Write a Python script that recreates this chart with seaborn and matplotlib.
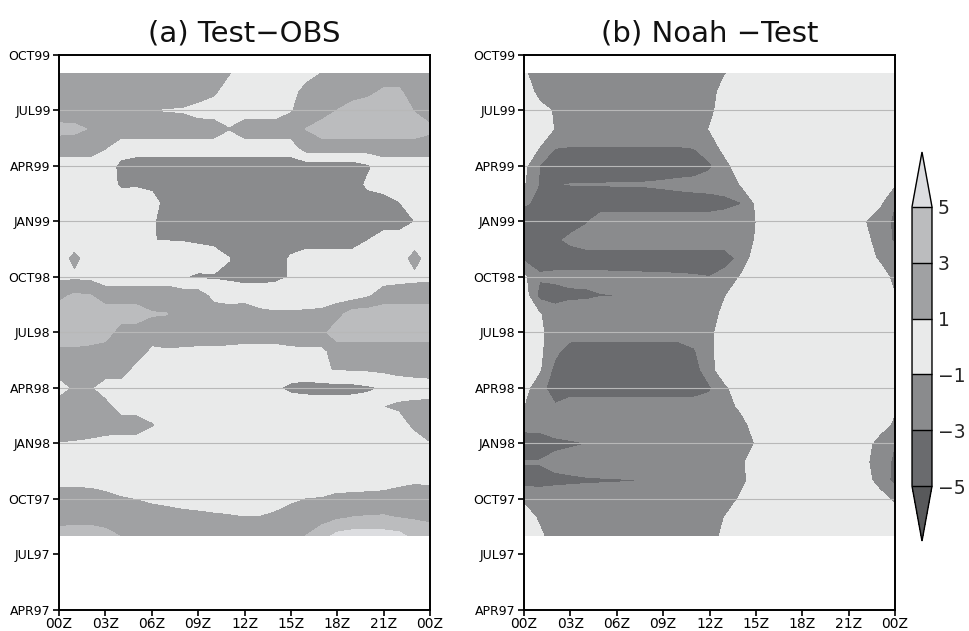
import numpy as np
import matplotlib
matplotlib.use("Agg")
import matplotlib.pyplot as plt
import seaborn as sns

# ---- data: rows = months AUG97..SEP99, columns = hour 00Z..24Z ----
hours = list(range(25))
row_months = ["AUG97", "SEP97", "OCT97", "NOV97", "DEC97", "JAN98", "FEB98", "MAR98",
              "APR98", "MAY98", "JUN98", "JUL98", "AUG98", "SEP98", "OCT98", "NOV98",
              "DEC98", "JAN99", "FEB99", "MAR99", "APR99", "MAY99", "JUN99", "JUL99",
              "AUG99", "SEP99"]
month_ticks = ["APR97", "JUL97", "OCT97", "JAN98", "APR98", "JUL98", "OCT98",
               "JAN99", "APR99", "JUL99", "OCT99"]
hour_ticks = [0, 3, 6, 9, 12, 15, 18, 21, 24]
hour_labels = ["00Z", "03Z", "06Z", "09Z", "12Z", "15Z", "18Z", "21Z", "00Z"]
levels = [-5, -3, -1, 1, 3, 5]
shade_colors = ["#58595b", "#6a6b6e", "#8a8b8d", "#e9eaea", "#a0a1a3", "#bbbcbe", "#dcdde0"]

# (a) Test-OBS
test_obs = [
    [4, 4.4, 4.4, 3.7, 2.95, 2, 2, 2, 2, 2, 2, 2, 2, 2, 2, 2, 3.05, 4.2, 5.6, 6.0, 6.0, 5.9, 5.6, 4.3, 3.6],  # AUG97
    [2, 2, 2, 2, 2, 2, 2, 2, 2, 1.8, 1.5, 1.3, 1.05, 1.1, 1.6, 2, 2, 2.2, 2.7, 3.05, 3.15, 3.2, 2.95, 2.8, 2.75],  # SEP97
    [2, 2, 2, 1.67, 1.15, 0.95, 0.63, 0.3, -0.27, -0.5, -0.6, -0.7, -0.8, -0.7, -0.3, 0.6, 1.02, 1.08, 1.45, 1.5, 1.65, 1.8, 2, 2, 2],  # OCT97
    [0.4, 0.35, 0.3, 0, 0, 0, 0, 0, 0, 0, 0, 0, 0, 0, 0, 0, 0, 0, 0, 0, 0, 0, 0.4, 0.72, 0.6],  # NOV97
    [0, 0, 0, 0, 0, 0, 0, 0, 0, 0, 0, 0, 0, 0, 0, 0, 0, 0, 0, 0, 0, 0, 0, 0, 0],  # DEC97
    [0.9, 0.8, 0.6, 0.2, 0, 0, 0, 0, 0, 0, 0, 0, 0, 0, 0, 0, 0, 0, 0, 0, 0, 0, 0, -0.1, 0.9],  # JAN98
    [2, 2, 2, 2, 2, 2, 1.1, 0, 0, 0, 0, 0, 0, 0, 0, 0, 0, 0, 0, 0, 0, 0, 0, 1.43, 2],  # FEB98
    [2, 2, 2, 1.67, 0, 0, 0, 0, 0, 0, 0, 0, 0, 0, 0, 0, 0, 0, 0, 0, 0, 0.95, 1.3, 1.5, 1.6],  # MAR98
    [0, 1.3, 1.2, 0, 0, 0, 0, 0, 0, 0, 0, 0, 0, 0, -0.8, -1.4, -1.6, -1.75, -1.7, -1.6, -1.3, -0.85, 0, 0, 0],  # APR98
    [2, 2, 2, 2, 2, 0.3, 0, 0, 0, 0, 0, 0, 0, 0, 0, 0, 0, 0.9, 1.05, 1.1, 1.2, 1.4, 1.5, 1.7, 1.9],  # MAY98
    [2.7, 2.7, 2.5, 2, 2, 2, 0.6, 0.8, 0.7, 0.6, 0.6, 0.5, 0.3, 0.3, 0.3, 0.6, 0.7, 0.5, 2, 2, 2, 2, 2, 2, 2],  # JUN98
    [4, 4, 4, 4, 2, 2, 2, 2, 2, 2, 2, 2, 2, 2, 2, 2, 2, 2.57, 4, 4, 4, 4, 4, 4, 4],  # JUL98
    [4, 4, 4, 4, 4, 4, 3.15, 3.05, 2, 2, 2, 2, 2.3, 1.4, 1.2, 1.2, 1.3, 1.43, 2.3, 4, 4, 4, 4, 4, 4],  # AUG98
    [2.5, 3.3, 3.1, 2, 2, 2, 2, 2, 2, 2, 0.4, 0, 0, 0, 0, 0, 0, 0, 0, 0, 0.75, 2, 2, 2, 2],  # SEP98
    [0.6, 0.6, 0.5, 0, 0, 0, 0, 0, -0.9, -1.3, -1.2, -1.3, -1.6, -1.6, -1.4, -0.9, 0, 0, 0, 0, 0, 0, 0.3, 0.5, 0.6],  # OCT98
    [0, 1.5, 0, 0, 0, 0, 0, 0, 0, 0, 0, -0.95, -2, -2, -2, -0.75, 0, 0, 0, 0, 0, 0, 0, 1.7, 0],  # NOV98
    [0, 0, 0, 0, 0, 0, -0.98, -1.05, -1.1, -1.3, -1.6, -2, -2, -2, -2, -2, -2, -2, -2, -2, -1.02, 0, 0, 0, 0],  # DEC98
    [0, 0, 0, 0, 0, 0, -0.7, -2, -2, -2, -2, -2, -2, -2, -2, -2, -2, -2, -2, -2, -2, -2, -2, -1.02, 0],  # JAN99
    [0, 0, 0, 0, 0, 0, 0, -2, -2, -2, -2, -2, -2, -2, -2, -2, -2, -2, -2, -2, -2, -2, -1.1, 0, 0],  # FEB99
    [0, 0, 0, 0, -1.3, -1.2, -1.6, -2, -2, -2, -2, -2, -2, -2, -2, -2, -2, -2, -2, -2, -0.6, 0, 0, 0, 0],  # MAR99
    [0, 0, 0, 0, -1.5, -2, -2, -2, -2, -2, -2, -2, -2, -2, -2, -2, -2, -2, -2, -2, -1.3, 0, 0, 0, 0],  # APR99
    [2, 2, 2, 1.11, 0, 0, 0, 0, 0, 0, 0, 0, 0, 0, 0, 0, 2, 2, 2, 2, 2, 2, 2, 2, 2],  # MAY99
    [3.5, 3.4, 2.9, 2, 2, 2, 2, 2, 2, 2, 2, 1.05, 2, 2, 2, 2, 3.05, 4, 4, 4, 4, 4, 4, 4, 3.4],  # JUN99
    [2, 2, 2, 2, 2, 1.8, 0.98, 0.88, 0.8, 0.2, 0, 0, 0, 0, 0, 0.85, 2, 2, 3.05, 4, 4, 4, 4, 2.9, 2],  # JUL99
    [2, 2, 2, 2, 2, 2, 2, 2, 2, 2, 1.3, 0, 0, 0, 0, 0, 2, 2, 2, 2, 2.6, 3.3, 3.3, 2, 2],  # AUG99
    [2, 2, 2, 2, 2, 2, 2, 2, 2, 2, 2, 1.1, 0, 0, 0, 0, 0, 1.1, 2, 2, 2, 2, 2, 2, 2],  # SEP99
]

# (b) Noah -Test
noah_test = [
    [0, -0.6, -2, -2, -2, -2, -2, -2, -2, -2, -2, -2, -2, -0.4, 0, 0, 0, 0, 0, 0, 0, 0, 0, 0, 0],  # AUG97
    [0, -1.3, -2, -2, -2, -2, -2, -2, -2, -2, -2, -2, -2, -0.95, 0, 0, 0, 0, 0, 0, 0, 0, 0, 0, 0],  # SEP97
    [-1.4, -2, -2, -2, -2, -2, -2, -2, -2, -2, -2, -2, -2, -2, -0.75, 0, 0, 0, 0, 0, 0, 0, 0, 0, -1.5],  # OCT97
    [-3.73, -3.6, -3.4, -3.3, -3.2, -3.15, -3.1, -3.05, -2.9, -2, -2, -2, -2, -2, -1.67, 0, 0, 0, 0, 0, 0, 0, 0, -2, -3.5],  # NOV97
    [-2.9, -2.9, -2.5, -2.3, -2.1, -2, -2, -2, -2, -2, -2, -2, -2, -2, -1.43, 0, 0, 0, 0, 0, 0, 0, -0.57, -2, -3.4],  # DEC97
    [-4, -3.9, -3.4, -3.2, -3.02, -2, -2, -2, -2, -2, -2, -2, -2, -2, -2, -0.9, 0, 0, 0, 0, 0, 0, 0, -2, -3.0],  # JAN98
    [-2.4, -2.4, -2.1, -2, -2, -2, -2, -2, -2, -2, -2, -2, -2, -2, -2, 0, 0, 0, 0, 0, 0, 0, 0, 0, -1.5],  # FEB98
    [-1.05, -2.3, -2.8, -2, -2, -2, -2, -2, -2, -2, -2, -2, -2, -2, -0.6, 0, 0, 0, 0, 0, 0, 0, 0, 0, -0.7],  # MAR98
    [-0.3, -2.3, -4, -4, -4, -4, -4, -4, -4, -4, -4, -4, -3.3, -1.33, 0, 0, 0, 0, 0, 0, 0, 0, 0, 0, 0],  # APR98
    [0, -0.78, -3.56, -4, -4, -4, -4, -4, -4, -4, -4, -4, -1.6, 0, 0, 0, 0, 0, 0, 0, 0, 0, 0, 0, 0],  # MAY98
    [0, -0.6, -2.5, -4, -4, -4, -4, -4, -4, -4, -4, -3.2, -1.5, 0, 0, 0, 0, 0, 0, 0, 0, 0, 0, 0, 0],  # JUN98
    [0, -0.6, -2, -2, -2, -2, -2, -2, -2, -2, -2, -2, -1.5, 0, 0, 0, 0, 0, 0, 0, 0, 0, 0, 0, 0],  # JUL98
    [0, -0.9, -2, -2, -2, -2, -2, -2, -2, -2, -2, -2, -2, -0.4, 0, 0, 0, 0, 0, 0, 0, 0, 0, 0, 0],  # AUG98
    [0, -3.6, -3.9, -3.35, -3.3, -3.05, -3.02, -2.97, -2, -2, -2, -2, -2, -1.1, 0, 0, 0, 0, 0, 0, 0, 0, 0, 0, -0.95],  # SEP98
    [-0.7, -2.8, -2.5, -2.5, -2.5, -2.5, -2.55, -2.6, -2.65, -2.7, -2.75, -2.85, -2.97, -2.2, -0.9, 0, 0, 0, 0, 0, 0, 0, 0, 0, -1.6],  # OCT98
    [-3.4, -3.6, -4, -4, -4, -4, -4, -4, -4, -4, -4, -4, -4, -3.9, -2.5, 0, 0, 0, 0, 0, 0, 0, 0, -1.3, -2.0],  # NOV98
    [-4, -4, -3.4, -2.6, -2, -2, -2, -2, -2, -2, -2, -2, -2, -2, -2, -0.89, 0, 0, 0, 0, 0, 0, -0.33, -2, -3.3],  # DEC98
    [-4, -4, -4, -3.8, -3.2, -2, -2, -2, -2, -2, -2, -2, -2, -2, -2, -1.02, 0, 0, 0, 0, 0, 0, -0.9, -2, -3.4],  # JAN99
    [-2.75, -3.4, -3.7, -4, -4, -4, -4, -4, -4, -4, -4, -4, -4, -3.6, -3.1, -0.77, 0, 0, 0, 0, 0, 0, 0, -0.7, -3.0],  # FEB99
    [-0.9, -3.1, -3.05, -2.97, -2.95, -2.92, -2.9, -2.87, -2.84, -2.7, -2.5, -2.3, -2.1, -2.0, -0.98, 0, 0, 0, 0, 0, 0, 0, 0, 0, -0.95],  # MAR99
    [-0.5, -3.05, -4, -4, -4, -4, -4, -4, -4, -4, -4, -4, -3.3, -1.6, 0, 0, 0, 0, 0, 0, 0, 0, 0, 0, 0],  # APR99
    [0, -1.05, -2.95, -3.05, -3.05, -3.05, -3.05, -3.05, -3.05, -3.05, -3.05, -2.95, -2, -0.4, 0, 0, 0, 0, 0, 0, 0, 0, 0, 0, 0],  # MAY99
    [0, 0, -1.1, -2, -2, -2, -2, -2, -2, -2, -2, -2, -0.95, 0, 0, 0, 0, 0, 0, 0, 0, 0, 0, 0, 0],  # JUN99
    [0, 0, -1.3, -2, -2, -2, -2, -2, -2, -2, -2, -2, -1.5, 0, 0, 0, 0, 0, 0, 0, 0, 0, 0, 0, 0],  # JUL99
    [0.8, -2, -2, -2, -2, -2, -2, -2, -2, -2, -2, -2, -2, 0, 0, 0, 0, 0, 0, 0, 0, 0, 0, 0, 0],  # AUG99
    [-0.72, -2, -2, -2, -2, -2, -2, -2, -2, -2, -2, -2, -2, -1.1, 0, 0, 0, 0, 0, 0, 0, 0, 0, 0, 0],  # SEP99
]

for name, tab in (("test_obs", test_obs), ("noah_test", noah_test)):
    for m, row in zip(row_months, tab):
        assert len(row) == 25, f"{name} {m}: {len(row)}"

# month index counted from APR97 = 0
row_pos = np.arange(4, 4 + len(row_months))
grid_pos = [6, 9, 12, 15, 18, 21, 24, 27]

sns.set_theme(style="ticks")
plt.rcParams["font.family"] = ["DejaVu Sans"]
plt.rcParams["axes.linewidth"] = 1.4

fig = plt.figure(figsize=(9.69, 6.31), dpi=100)
ax_a = fig.add_axes([0.0609, 0.0333, 0.3829, 0.8796])
ax_b = fig.add_axes([0.5408, 0.0333, 0.3829, 0.8796])
cax = fig.add_axes([0.9412, 0.1426, 0.0206, 0.6165])

for ax, tab, title in ((ax_a, test_obs, "(a) Test\u2212OBS"), (ax_b, noah_test, "(b) Noah \u2212Test")):
    cs = ax.contourf(hours, row_pos, np.array(tab), levels=levels, colors=shade_colors,
                     extend="both", zorder=1)
    ax.hlines(grid_pos, 0, 24, colors="#b8b8b8", linewidth=0.8, zorder=2)
    ax.set_xlim(0, 24)
    ax.set_ylim(0, 30)
    ax.set_xticks(hour_ticks)
    ax.set_xticklabels(hour_labels)
    ax.set_yticks(range(0, 31, 3))
    ax.set_yticklabels(month_ticks)
    ax.tick_params(axis="y", direction="out", length=4, width=1.2, labelsize=9, pad=2, colors="black")
    ax.tick_params(axis="x", direction="out", length=4, width=1.2, labelsize=10, pad=1, colors="black")
    for sp in ax.spines.values():
        sp.set_color("black")
        sp.set_linewidth(1.4)
    ax.set_title(title, fontsize=21, pad=10, color="#111111")
    ax.set_facecolor("white")

cb = fig.colorbar(cs, cax=cax, orientation="vertical", drawedges=True,
                  extendfrac=0.196, ticks=levels)
cb.outline.set_edgecolor("black")
cb.outline.set_linewidth(1.0)
cb.dividers.set_color("black")
cb.dividers.set_linewidth(1.0)
cax.tick_params(length=0, labelsize=13.5, pad=4)

fig.savefig("out.png", dpi=100)
